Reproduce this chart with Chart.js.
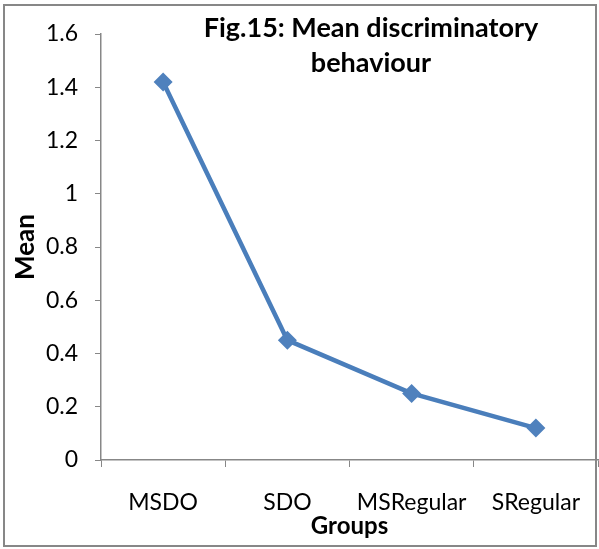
<!DOCTYPE html>
<html>
<head>
<meta charset="utf-8">
<script src="https://cdn.jsdelivr.net/npm/chart.js@4"></script>
<style>
  html, body { margin: 0; padding: 0; background: #fff; }
  #wrap { position: relative; width: 599px; height: 549px; }
  #frame { position: absolute; left: 3px; top: 4px; width: 590px; height: 539px; border: 2px solid #878787; pointer-events: none; }
  canvas { display: block; }
</style>
</head>
<body>
<div id="wrap">
  <canvas id="grafico" width="599" height="549"></canvas>
  <div id="frame"></div>
</div>
<script>
// --- datos ---
const grupos = ['MSDO', 'SDO', 'MSRegular', 'SRegular'];
const medias = [1.42, 0.45, 0.25, 0.12];
const tituloLineas = ['Fig.15: Mean discriminatory', 'behaviour'];

const AZUL = '#4A7EBB';
const FUENTE = 'Lato, "Open Sans", sans-serif';
const BORDE_DERECHO = 598;

// titulo dentro del area del grafico, arriba a la derecha
const tituloInterno = {
    id: 'tituloInterno',
    afterDraw(chart) {
        const ctx = chart.ctx;
        ctx.save();
        ctx.fillStyle = '#000';
        ctx.font = 'bold 27px ' + FUENTE;
        ctx.textAlign = 'center';
        ctx.textBaseline = 'alphabetic';
        ctx.fillText(tituloLineas[0], 371, 37, 340);
        ctx.fillText(tituloLineas[1], 371, 72, 340);
        ctx.restore();
    }
};

// estira el eje x hasta el borde derecho del lienzo
const ejeHastaElBorde = {
    id: 'ejeHastaElBorde',
    afterLayout(chart) {
        const x = chart.scales.x;
        x.right = BORDE_DERECHO;
        x.width = x.right - x.left;
        x.configure();
        chart.chartArea.right = BORDE_DERECHO;
        chart.chartArea.width = BORDE_DERECHO - chart.chartArea.left;
    }
};

const ctx = document.getElementById('grafico').getContext('2d');
new Chart(ctx, {
    type: 'line',
    data: {
        labels: grupos,
        datasets: [{
            data: medias,
            borderColor: AZUL,
            borderWidth: 4.5,
            backgroundColor: '#4F81BD',
            pointStyle: 'rectRot',
            pointRadius: 9.5,
            pointBorderWidth: 0,
            pointBackgroundColor: '#4F81BD',
            tension: 0,
            fill: false,
            clip: false
        }]
    },
    options: {
        responsive: false,
        animation: false,
        events: [],
        layout: { padding: { left: 8, right: 2, top: 34, bottom: 8 } },
        plugins: {
            legend: { display: false },
            tooltip: { enabled: false }
        },
        scales: {
            x: {
                offset: true,
                grid: {
                    offset: true,
                    drawOnChartArea: false,
                    drawTicks: true,
                    tickLength: 7,
                    color: '#878787'
                },
                border: { color: '#878787', width: 1.5 },
                ticks: {
                    color: '#000',
                    padding: 22,
                    maxRotation: 0,
                    font: { family: FUENTE, size: 23 }
                },
                title: {
                    display: true,
                    text: 'Groups',
                    color: '#000',
                    padding: { top: 0, bottom: 0 },
                    font: { family: FUENTE, size: 24, weight: 'bold' }
                },
                afterFit(scale) {
                    scale.height = 549 - 460 - 8;
                }
            },
            y: {
                min: 0,
                max: 1.6,
                ticks: {
                    stepSize: 0.2,
                    color: '#000',
                    padding: 17,
                    font: { family: FUENTE, size: 23 },
                    callback: v => Math.round(v * 10) / 10
                },
                grid: {
                    drawOnChartArea: false,
                    drawTicks: true,
                    tickLength: 6,
                    color: '#878787'
                },
                border: { color: '#878787', width: 1.5 },
                title: {
                    display: true,
                    text: 'Mean',
                    color: '#000',
                    padding: { top: 2, bottom: 0 },
                    font: { family: FUENTE, size: 26, weight: 'bold' }
                },
                afterFit(scale) {
                    scale.width = 101 - 8;
                }
            }
        }
    },
    plugins: [ejeHastaElBorde, tituloInterno]
});
</script>
</body>
</html>
